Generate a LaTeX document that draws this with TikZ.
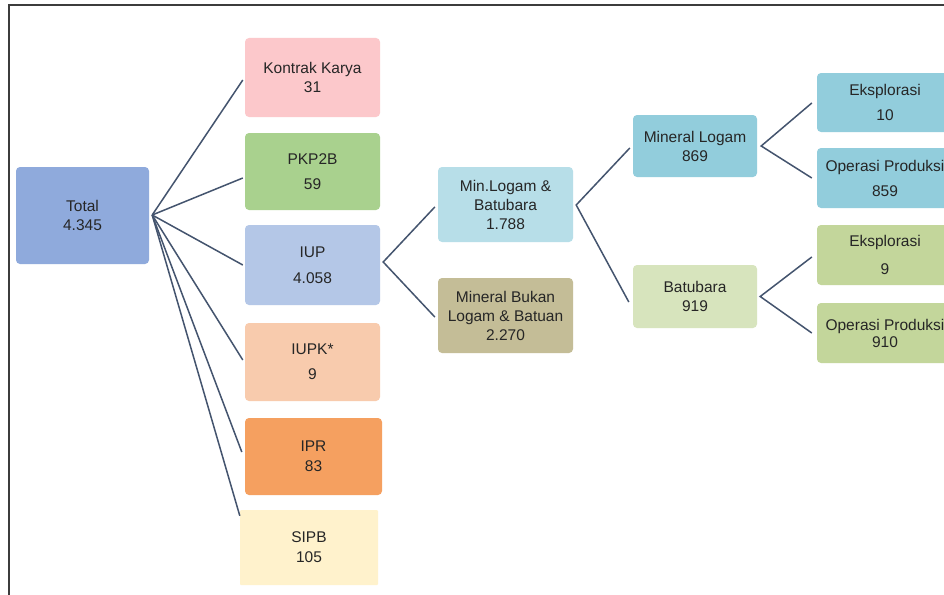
\documentclass[tikz,border=0pt]{standalone}
\usepackage{fontspec}
\setmainfont{Liberation Sans}
\usetikzlibrary{calc}
\definecolor{cTotal}{RGB}{143,170,220}
\definecolor{cKK}{RGB}{252,200,203}
\definecolor{cPKP}{RGB}{169,209,142}
\definecolor{cIUP}{RGB}{180,199,231}
\definecolor{cIUPK}{RGB}{248,203,173}
\definecolor{cIPR}{RGB}{245,160,96}
\definecolor{cSIPB}{RGB}{255,242,204}
\definecolor{cMLB}{RGB}{183,222,232}
\definecolor{cMBL}{RGB}{196,189,151}
\definecolor{cML}{RGB}{146,205,220}
\definecolor{cBB}{RGB}{215,228,189}
\definecolor{cGreen}{RGB}{195,214,155}
\definecolor{cLine}{RGB}{68,84,110}
\definecolor{cText}{RGB}{38,38,38}
\definecolor{cFrame}{RGB}{60,60,60}
\begin{document}
\begin{tikzpicture}[x=1pt,y=-1pt,
  box/.style={rectangle, rounded corners=4pt, inner sep=0pt, align=center,
    font=\fontsize{15.5}{19}\selectfont, text=cText},
  conn/.style={draw=cLine, line width=1.5pt}]
\clip (0,0) rectangle (944,594);
\fill[white] (0,0) rectangle (944,594);
\draw[cFrame, line width=1.6pt] (9,600) -- (9,5) -- (950,5);

% level 0
\node[box, fill=cTotal, minimum width=133pt, minimum height=97pt] (total) at (82.5,215.5) {Total\\4.345};
% level 1
\node[box, fill=cKK, minimum width=135pt, minimum height=79pt] (kk) at (312.5,77.5) {Kontrak Karya\\31};
\node[box, fill=cPKP, minimum width=135pt, minimum height=77pt] (pkp) at (312.5,171.5) {PKP2B\\[6pt]59};
\node[box, fill=cIUP, minimum width=135pt, minimum height=80pt] (iup) at (312.5,265) {IUP\\[7pt]4.058};
\node[box, fill=cIUPK, minimum width=135pt, minimum height=78pt] (iupk) at (312.5,362) {IUPK*\\[6pt]9};
\node[box, fill=cIPR, minimum width=137pt, minimum height=77pt] (ipr) at (313.5,456.5) {IPR\\[1pt]83};
\node[box, fill=cSIPB, rounded corners=1pt, minimum width=138pt, minimum height=75pt] (sipb) at (309,547.5) {SIPB\\[1pt]105};
% level 2
\node[box, fill=cMLB, minimum width=135pt, minimum height=75pt] (mlb) at (505.5,204.5) {Min.Logam \&\\Batubara\\1.788};
\node[box, fill=cMBL, minimum width=135pt, minimum height=75pt] (mbl) at (505.5,315.5) {Mineral Bukan\\Logam \& Batuan\\2.270};
% level 3
\node[box, fill=cML, minimum width=124pt, minimum height=62pt] (ml) at (695,146) {Mineral Logam\\869};
\node[box, fill=cBB, minimum width=124pt, minimum height=63pt] (bb) at (695,296.5) {Batubara\\919};
% level 4
\node[box, fill=cML, minimum width=136pt, minimum height=59pt] (e10) at (885,102.5) {Eksplorasi\\[6pt]10};
\node[box, fill=cML, minimum width=136pt, minimum height=60pt] (op859) at (885,178) {Operasi Produksi\\[6pt]859};
\node[box, fill=cGreen, minimum width=136pt, minimum height=60pt] (e9) at (885,255) {Eksplorasi\\[9pt]9};
\node[box, fill=cGreen, minimum width=136pt, minimum height=60pt] (op910) at (885,333) {Operasi Produksi\\[-2pt]910};

% connectors from Total
\coordinate (tf) at ($(total.east)+(3,-0.5)$);
\draw[conn] (tf) -- ($(kk.west)+(-2,2.5)$);
\draw[conn] (tf) -- ($(pkp.west)+(-2,6.5)$);
\draw[conn] (tf) -- ($(iup.west)+(-2,0)$);
\draw[conn] (tf) -- ($(iupk.west)+(-2,-2)$);
\draw[conn] (tf) -- ($(ipr.west)+(-3,-4.5)$);
\draw[conn] (tf) -- ($(sipb.north west)+(0,6)$);
% IUP fork
\coordinate (iupf) at ($(iup.east)+(3,-3)$);
\draw[conn] ($(mlb.west)+(-3,2.5)$) -- (iupf) -- ($(mbl.west)+(-3,1.5)$);
% Min.Logam fork
\coordinate (mlbf) at ($(mlb.east)+(3,0.5)$);
\draw[conn] ($(ml.west)+(-3,2)$) -- (mlbf) -- ($(bb.west)+(-4,5.5)$);
% Mineral Logam fork
\coordinate (mlf) at ($(ml.east)+(4,0)$);
\draw[conn] ($(e10.west)+(-5,0.5)$) -- (mlf) -- ($(op859.west)+(-5,0)$);
% Batubara fork
\coordinate (bbf) at ($(bb.east)+(3,0)$);
\draw[conn] ($(e9.west)+(-5,2)$) -- (bbf) -- ($(op910.west)+(-5,0)$);
\end{tikzpicture}
\end{document}
